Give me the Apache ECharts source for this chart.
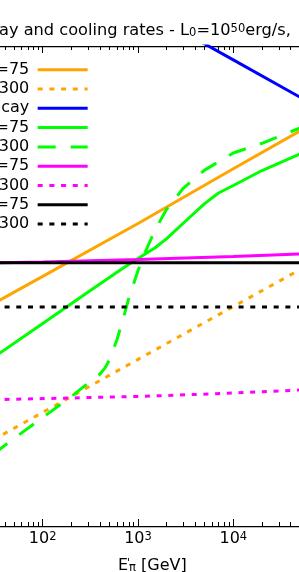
<!DOCTYPE html>
<html><head><meta charset="utf-8">
<script src="https://cdn.jsdelivr.net/npm/echarts@6/dist/echarts.min.js"></script>
<style>html,body{margin:0;padding:0;overflow:hidden;background:#fff}#c{width:299px;height:572px}</style>
</head><body><div id="c"></div>
<script>
// ---- data ----
const titleText = 'ay and cooling rates - L{sub|0}=10{sup|50}erg/s,';
const xAxisName = "E{sp|'}{sub|π} [GeV]";
const xMin = 20, xMax = 100000;
const yMin = 1e-6, yMax = 1e3;
const minorTicks = [30,40,50,60,70,80,90,200,300,400,500,600,700,800,900,2000,3000,4000,5000,6000,7000,8000,9000,20000,30000,40000,50000,60000,70000,80000,90000];

const seriesNames = ['sync η=75', 'sync η=300', 'π decay', 'pγ η=75', 'pγ η=300', 'pp η=75', 'pp η=300', 'adiab η=75', 'adiab η=300'];

const energyLin = [30, 100, 1000, 10000, 50000];
const syncEta75 = [0.0146, 0.048, 0.47, 5.0, 25.5];
const syncEta300 = [4.1e-5, 1.35e-4, 1.33e-3, 0.013, 0.064];

const energyDecay = [1000, 10000, 50000];
const decayRate = [5480, 548, 110];

const energyPg75 = [30, 100, 300, 700, 1000, 1500, 2000, 3000, 5000, 7000, 10000, 20000, 50000];
const pgEta75 = [1.42e-3, 6.26e-3, 0.0243, 0.0687, 0.1036, 0.163, 0.245, 0.48, 1.11, 1.75, 2.42, 4.63, 9.44];

const energyPg300 = [30, 50, 100, 200, 300, 400, 450, 500, 600, 700, 800, 1000, 1200, 1500, 2000, 3000, 5000, 10000, 20000, 50000];
const pgEta300 = [2.2e-5, 4.39e-5, 1.08e-4, 2.69e-4, 4.8e-4, 7.08e-4, 9.2e-4, 1.29e-3, 3.07e-3, 7.8e-3, 0.0185, 0.0617, 0.141, 0.348, 0.875, 2.17, 4.71, 9.86, 15.0, 29.0];

const energyFlat = [30, 100, 1000, 10000, 50000];
const ppEta75 = [0.0853, 0.0891, 0.0993, 0.113, 0.126];
const ppEta300 = [2.33e-4, 2.45e-4, 2.68e-4, 3.11e-4, 3.55e-4];
const adiabEta75 = [0.086, 0.086, 0.086, 0.086, 0.086];
const adiabEta300 = [0.01276, 0.01276, 0.01276, 0.01276, 0.01276];

// ---- styles ----
const FONT = 'DejaVu Sans';
const styles = [
  {color:'#FFA500', type:'solid'},
  {color:'#FFA500', type:[5,6.7]},
  {color:'#0000FF', type:'solid'},
  {color:'#00FF00', type:'solid'},
  {color:'#00FF00', type:[18,15]},
  {color:'#FF00FF', type:'solid'},
  {color:'#FF00FF', type:[5,6.7]},
  {color:'#000000', type:'solid'},
  {color:'#000000', type:[5,6.7]}
];
const xs = [energyLin, energyLin, energyDecay, energyPg75, energyPg300, energyFlat, energyFlat, energyFlat, energyFlat];
const ys = [syncEta75, syncEta300, decayRate, pgEta75, pgEta300, ppEta75, ppEta300, adiabEta75, adiabEta300];
const pairs = (a, b) => a.map((v, i) => [v, b[i]]);

const isPow10 = v => { const p = Math.round(Math.log10(v)); return Math.abs(v - Math.pow(10, p)) < 1e-6 * v; };

const baseX = {type:'log', min:xMin, max:xMax, logBase:10, splitLine:{show:false}, axisLabel:{show:false}, axisLine:{show:false}};
const chart = echarts.init(document.getElementById('c'), null, {renderer:'canvas'});
chart.setOption({
  animation:false,
  title:{
    text:titleText, left:-1, top:23, padding:0,
    textStyle:{fontFamily:FONT, fontSize:16.2, fontWeight:'normal', color:'#000',
      rich:{sub:{fontFamily:FONT, fontSize:11.5, verticalAlign:'bottom', color:'#000'},
            sup:{fontFamily:FONT, fontSize:11.5, verticalAlign:'top', color:'#000'}}}
  },
  legend:{
    orient:'vertical', left:-4.5, top:61.7, padding:0, align:'right',
    itemWidth:50, itemHeight:19.4, itemGap:3.3,
    data:seriesNames,
    formatter: n => n.slice(-3),
    lineStyle:{width:3},
    itemStyle:{opacity:0, borderWidth:0},
    textStyle:{fontFamily:FONT, fontSize:16, color:'#000', padding:[0,3.4,0,0]}
  },
  grid:{left:-23.9, right:-29.6, top:46, bottom:46, containLabel:false, outerBoundsMode:'none'},
  xAxis:[
    Object.assign({}, baseX, {position:'bottom',
      axisLine:{show:true, lineStyle:{color:'#000', width:1.25}},
      axisTick:{inside:true, length:7, lineStyle:{color:'#000', width:1}},
      axisLabel:{show:true, margin:5, fontFamily:FONT, fontSize:16, color:'#000',
        formatter: v => isPow10(v) ? '10{sup|' + Math.round(Math.log10(v)) + '}' : '',
        rich:{sup:{fontFamily:FONT, fontSize:11.5, verticalAlign:'top', color:'#000'}}},
      name:xAxisName, nameLocation:'middle', nameGap:32,
      nameTextStyle:{fontFamily:FONT, fontSize:16, color:'#000',
        rich:{sp:{fontFamily:FONT, fontSize:11, verticalAlign:'top', width:1, color:'#000'},
              sub:{fontFamily:FONT, fontSize:11.5, verticalAlign:'bottom', color:'#000'}}}
    }),
    Object.assign({}, baseX, {position:'bottom', axisTick:{inside:true, length:4, customValues:minorTicks, lineStyle:{color:'#000', width:1}}}),
    Object.assign({}, baseX, {position:'top',
      axisLine:{show:true, lineStyle:{color:'#000', width:1.25}},
      axisTick:{inside:true, length:7, lineStyle:{color:'#000', width:1}}}),
    Object.assign({}, baseX, {position:'top', axisTick:{inside:true, length:4, customValues:minorTicks, lineStyle:{color:'#000', width:1}}})
  ],
  yAxis:{type:'log', min:yMin, max:yMax, logBase:10, axisLine:{show:false}, axisTick:{show:false}, axisLabel:{show:false}, splitLine:{show:false}},
  series: seriesNames.map((name, i) => ({
    name, type:'line', xAxisIndex:0, yAxisIndex:0, symbol:'none', showSymbol:false, clip:true, smooth:false,
    lineStyle:{color:styles[i].color, type:styles[i].type, width:3, cap:'butt'},
    itemStyle:{color:styles[i].color},
    data: pairs(xs[i], ys[i])
  }))
});
</script></body></html>
